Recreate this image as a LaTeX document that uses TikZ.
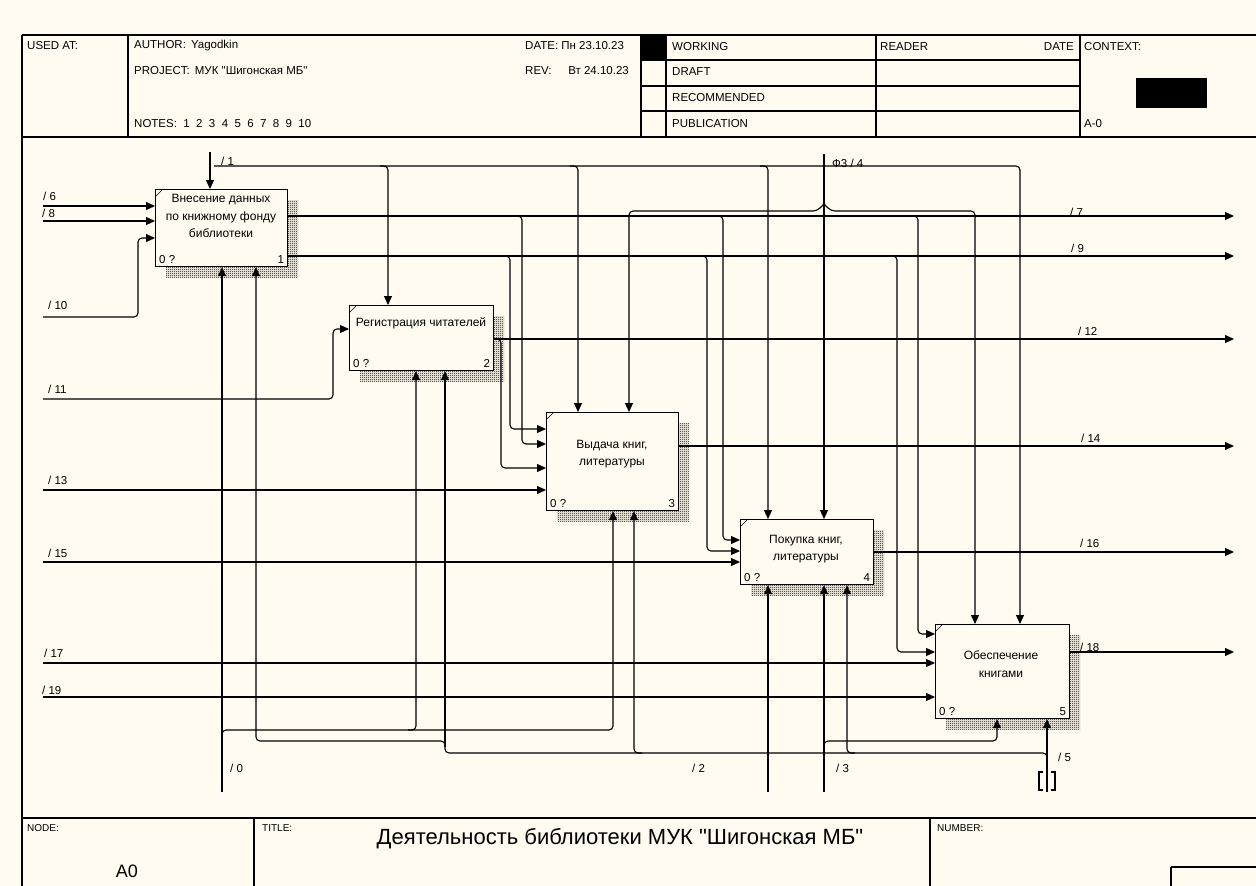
\documentclass[tikz,border=0pt]{standalone}
\usepackage{fontspec}
\setmainfont{Liberation Sans}[Ligatures=TeXOff]
\usetikzlibrary{arrows.meta,patterns,calc}
\definecolor{bg}{RGB}{255,251,240}
\pgfdeclarepatternformonly{chk}{\pgfpointorigin}{\pgfpoint{2pt}{2pt}}{\pgfpoint{2pt}{2pt}}{%
  \pgfpathrectangle{\pgfpointorigin}{\pgfpoint{1pt}{1pt}}%
  \pgfpathrectangle{\pgfpoint{1pt}{1pt}}{\pgfpoint{1pt}{1pt}}%
  \pgfusepath{fill}}
\tikzset{
  ln/.style={line width=1.1pt},
  frm/.style={line width=1.5pt},
  arr/.style={line width=1.1pt,-{Triangle[length=9pt,width=8pt]},rounded corners=4pt},
  pbox/.style={draw,line width=1.1pt,fill=bg,inner sep=0pt,anchor=north west},
  shadowbox/.style={pattern=chk,pattern color=black},
  btxt/.style={font=\fontsize{12}{17.5}\selectfont,align=center,inner sep=0pt},
  sm/.style={font=\fontsize{11.5}{13}\selectfont,inner sep=0pt},
  lbl/.style={sm,anchor=west},
  tiny/.style={font=\fontsize{10}{12}\selectfont,inner sep=0pt,anchor=west},
}
\begin{document}
\begin{tikzpicture}[x=1pt,y=-1pt]
\useasboundingbox (0,0) rectangle (1256,886);
\fill[bg] (0,0) rectangle (1256,886);

% ---------- header ----------
\draw[frm] (22,35) -- (1256,35);
\draw[frm] (22,137) -- (1256,137);
\draw[frm] (22,35) -- (22,886);
\draw[ln] (128,35) -- (128,137);
\draw[ln] (641,35) -- (641,137);
\draw[ln] (666,35) -- (666,137);
\draw[ln] (876,35) -- (876,137);
\draw[ln] (1080,35) -- (1080,137);
\draw[ln] (641,60) -- (1080,60);
\draw[ln] (641,86) -- (1080,86);
\draw[ln] (641,111) -- (1080,111);
\fill (641,35) rectangle (666,60);
\fill (1136,78) rectangle (1207,108);

\node[lbl] (hused) at (27,46) {USED AT:};
\node[lbl] (hauth) at (134,46) {AUTHOR:\ \,Yagodkin};
\node[lbl] (hproj) at (134,71) {PROJECT:\ \,МУК "Шигонская МБ"};
\node[lbl] (hnotes) at (134,124) {NOTES:\ \ 1\ \ 2\ \ 3\ \ 4\ \ 5\ \ 6\ \ 7\ \ 8\ \ 9\ \ 10};
\node[lbl] (hdate) at (525,46) {DATE:\ Пн 23.10.23};
\node[lbl] (hrev) at (525,71) {REV:};
\node[sm,anchor=east] (hrevd) at (629,71) {Вт 24.10.23};
\node[lbl] (hwork) at (672,47) {WORKING};
\node[lbl] (hdraft) at (672,72) {DRAFT};
\node[lbl] (hrec) at (672,98) {RECOMMENDED};
\node[lbl] (hpub) at (672,124) {PUBLICATION};
\node[lbl] (hread) at (880,47) {READER};
\node[sm,anchor=east] (hdate2) at (1074,47) {DATE};
\node[lbl] (hctx) at (1084,47) {CONTEXT:};
\node[lbl] (ha0) at (1084,124) {A-0};

% ---------- footer ----------
\draw[frm] (22,818) -- (1256,818);
\draw[ln] (254,818) -- (254,886);
\draw[ln] (930,818) -- (930,886);
\draw[ln] (1171,867) -- (1256,867);
\draw[ln] (1171,867) -- (1171,886);
\node[tiny] (fnode) at (27,828) {NODE:};
\node[tiny] (ftitle) at (262,828) {TITLE:};
\node[tiny] (fnum) at (937,828) {NUMBER:};
\node[font=\fontsize{18}{20}\selectfont,inner sep=0pt] (fa0) at (127,871) {A0};
\node[font=\fontsize{22}{24}\selectfont,inner sep=0pt] (ftxt) at (620,839) {Деятельность библиотеки МУК "Шигонская МБ"};

% ---------- shadows ----------
\fill[shadowbox] (166,200) rectangle (298,277);
\fill[shadowbox] (360,316) rectangle (504,381);
\fill[shadowbox] (557,423) rectangle (689,521);
\fill[shadowbox] (751,530) rectangle (884,595);
\fill[shadowbox] (946,635) rectangle (1080,729);

% ---------- boxes ----------
\node[pbox,minimum width=132pt,minimum height=77pt] (b1) at (155,189) {};
\node[pbox,minimum width=144pt,minimum height=65pt] (b2) at (349,305) {};
\node[pbox,minimum width=132pt,minimum height=98pt] (b3) at (546,412) {};
\node[pbox,minimum width=133pt,minimum height=65pt] (b4) at (740,519) {};
\node[pbox,minimum width=134pt,minimum height=94pt] (b5) at (935,624) {};

\foreach \b/\n in {b1/1,b2/2,b3/3,b4/4,b5/5}{
  \draw[line width=0.6pt] ($(\b.north west)+(0,8)$) -- ($(\b.north west)+(8,0)$);
  \node[sm,anchor=south west] (\b zero) at ($(\b.south west)+(4,-3)$) {0 ?};
  \node[sm,anchor=south east] (\b num) at ($(\b.south east)+(-4,-3)$) {\n};
}
\node[btxt] (t1) at (221,216) {Внесение данных\\по книжному фонду\\библиотеки};
\node[btxt] (t2) at (421,323) {Регистрация читателей};
\node[btxt] (t3) at (612,454) {Выдача книг,\\литературы};
\node[btxt] (t4) at (806,549) {Покупка книг,\\литературы};
\node[btxt] (t5) at (1001,664) {Обеспечение\\книгами};

% ---------- inputs ----------
\draw[arr] (43,206) -- (b1.west |- 0,206);
\draw[arr] (43,221) -- (b1.west |- 0,221);
\draw[arr] (43,317) -- (138,317) -- (138,238) -- (b1.west |- 0,238);
\draw[arr] (43,399) -- (333,399) -- (333,329) -- (b2.west |- 0,329);
\draw[arr] (43,490) -- (b3.west |- 0,490);
\draw[arr] (43,562) -- (b4.west |- 0,562);
\draw[arr] (43,663) -- (b5.west |- 0,663);
\draw[arr] (43,697) -- (b5.west |- 0,697);

% ---------- controls ----------
\draw[arr] (210,152) -- (b1.north -| 210,0);
\draw[arr] (214,166) -- (1020,166) -- (b5.north -| 1020,0);
\draw[arr] (380,166) -- (388,166) -- (b2.north -| 388,0);
\draw[arr] (570,166) -- (578,166) -- (b3.north -| 578,0);
\draw[arr] (760,166) -- (768,166) -- (b4.north -| 768,0);
\draw[arr] (824,154) -- (b4.north -| 824,0);
\draw[arr] (824,204) -- (817,211) -- (629,211) -- (b3.north -| 629,0);
\draw[arr] (824,204) -- (831,211) -- (975,211) -- (b5.north -| 975,0);

% ---------- outputs ----------
\draw[arr] (b1.east |- 0,216) -- (1234,216);
\draw[arr] (b1.east |- 0,256) -- (1234,256);
\draw[arr] (b2.east |- 0,339) -- (1234,339);
\draw[arr] (b3.east |- 0,446) -- (1234,446);
\draw[arr] (b4.east |- 0,552) -- (1234,552);
\draw[arr] (b5.east |- 0,652) -- (1234,652);

% branches of outputs into inputs
\draw[arr] (514,216) -- (522,216) -- (522,444) -- (b3.west |- 0,444);
\draw[arr] (715,216) -- (723,216) -- (723,540) -- (b4.west |- 0,540);
\draw[arr] (910,216) -- (918,216) -- (918,634) -- (b5.west |- 0,634);
\draw[arr] (502,256) -- (510,256) -- (510,429) -- (b3.west |- 0,429);
\draw[arr] (699,256) -- (707,256) -- (707,551) -- (b4.west |- 0,551);
\draw[arr] (889,256) -- (897,256) -- (897,652) -- (b5.west |- 0,652);
\draw[arr] (b2.east |- 0,339) -- (501,339) -- (501,468) -- (b3.west |- 0,468);

% ---------- mechanisms ----------
\draw[arr] (222,792) -- (b1.south -| 222,0);
\draw[arr] (222,740) -- (222,730) -- (613,730) -- (b3.south -| 613,0);
\draw[arr] (408,730) -- (416,730) -- (b2.south -| 416,0);
\draw[arr] (1047,792) -- (b5.south -| 1047,0);
\draw[arr] (1047,762) -- (1047,753) -- (445,753) -- (445,741) -- (256,741) -- (b1.south -| 256,0);
\draw[arr] (445,747) -- (b2.south -| 445,0);
\draw[arr] (642,753) -- (634,753) -- (b3.south -| 634,0);
\draw[arr] (855,753) -- (847,753) -- (b4.south -| 847,0);
\draw[arr] (768,792) -- (b4.south -| 768,0);
\draw[arr] (824,792) -- (b4.south -| 824,0);
\draw[arr] (824,749) -- (824,741) -- (997,741) -- (b5.south -| 997,0);

% tunnel brackets on /5
\draw[ln] (1043,772) -- (1039,772) -- (1039,790) -- (1043,790);
\draw[ln] (1051,772) -- (1055,772) -- (1055,790) -- (1051,790);

% ---------- arrow labels ----------
\node[lbl] (l1) at (221,161) {/ 1};
\node[lbl] (l4) at (832,163) {Ф3 / 4};
\node[lbl] (l6) at (43,196) {/ 6};
\node[lbl] (l8) at (42,213) {/ 8};
\node[lbl] (l10) at (48,305) {/ 10};
\node[lbl] (l11) at (48,389) {/ 11};
\node[lbl] (l13) at (48,480) {/ 13};
\node[lbl] (l15) at (48,553) {/ 15};
\node[lbl] (l17) at (44,653) {/ 17};
\node[lbl] (l19) at (42,690) {/ 19};
\node[lbl] (l7) at (1070,212) {/ 7};
\node[lbl] (l9) at (1071,248) {/ 9};
\node[lbl] (l12) at (1078,331) {/ 12};
\node[lbl] (l14) at (1081,438) {/ 14};
\node[lbl] (l16) at (1080,543) {/ 16};
\node[lbl] (l18) at (1080,647) {/ 18};
\node[lbl] (l0) at (230,768) {/ 0};
\node[lbl] (l2) at (692,768) {/ 2};
\node[lbl] (l3) at (836,768) {/ 3};
\node[lbl] (l5) at (1058,757) {/ 5};
\end{tikzpicture}
\end{document}
